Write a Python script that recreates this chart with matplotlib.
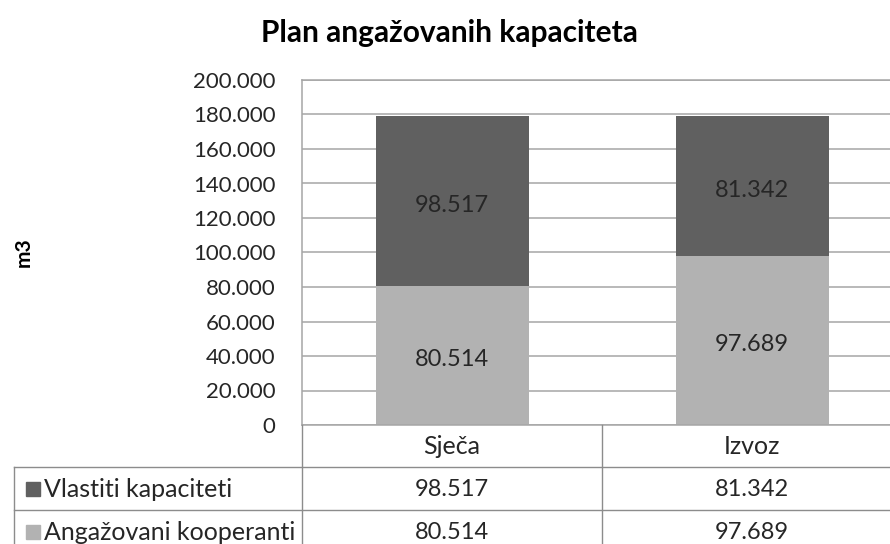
import matplotlib.pyplot as plt
from matplotlib.lines import Line2D
from matplotlib.patches import Rectangle

plt.rcParams["font.family"] = ["Lato", "DejaVu Sans"]

categories = ["Sječa", "Izvoz"]
series_names = ["Vlastiti kapaciteti", "Angažovani kooperanti"]
vlastiti = [98517, 81342]
angazovani = [80514, 97689]
y_ticks = [0, 20000, 40000, 60000, 80000, 100000, 120000, 140000, 160000, 180000, 200000]

DARK = "#606060"
LIGHT = "#b2b2b2"
GRID = "#a6a6a6"
TEXT = "#262626"

W, H = 890, 544


def fx(x):
    return x / W


def fy(y):
    return 1 - y / H


def fmt(value):
    return f"{value:,.0f}".replace(",", ".")


fig = plt.figure(figsize=(W / 100, H / 100), dpi=100)
plot_left, plot_right, plot_top, plot_bottom = 302, 902, 80, 425
ax = fig.add_axes([fx(plot_left), fy(plot_bottom),
                   (plot_right - plot_left) / W, (plot_bottom - plot_top) / H])

positions = list(range(len(categories)))
ax.bar(positions, angazovani, width=0.51, color=LIGHT, zorder=2)
ax.bar(positions, vlastiti, width=0.51, bottom=angazovani, color=DARK, zorder=2)

# data labels, nudged down a little so the digits sit on the segment centre
for pos, low, high in zip(positions, angazovani, vlastiti):
    for y, val in [(low / 2, low), (low + high / 2, high)]:
        ax.annotate(fmt(val), xy=(pos, y), xytext=(0, -3), textcoords="offset points",
                    ha="center", va="center", fontsize=17, color=TEXT, zorder=3)

ax.set_xlim(-0.5, len(categories) - 0.5)
ax.set_ylim(0, 200000)
ax.set_yticks(y_ticks)
ax.set_yticklabels([fmt(t) for t in y_ticks], fontsize=16, color=TEXT)
ax.set_xticks([])
ax.tick_params(axis="y", length=0, pad=19)
ax.grid(axis="y", color=GRID, linewidth=1.1, zorder=1)
for side in ax.spines:
    ax.spines[side].set_color(GRID)
    ax.spines[side].set_linewidth(1.1)

fig.text(fx(449), fy(33), "Plan angažovanih kapaciteta", ha="center", va="center",
         fontsize=21.5, fontweight="bold", color="#000000")
fig.text(fx(24), fy(252), "m3", ha="center", va="center", rotation=90,
         fontsize=15, fontweight="bold", color="#000000")

# data table under the chart
line_kw = dict(color="#8c8c8c", linewidth=1.0, transform=fig.transFigure)
header_mid = 447
row_edges = [467, 510, 553]
for y in row_edges[:2]:
    fig.add_artist(Line2D([fx(14), 1], [fy(y), fy(y)], **line_kw))
fig.add_artist(Line2D([fx(14), fx(14)], [fy(row_edges[0]), fy(row_edges[-1])], **line_kw))
col_edges = [plot_left + i * (plot_right - plot_left) / len(categories) for i in range(len(categories) + 1)]
for x in col_edges[:-1]:
    fig.add_artist(Line2D([fx(x), fx(x)], [fy(plot_bottom), fy(row_edges[-1])], **line_kw))

centers = [(a + b) / 2 for a, b in zip(col_edges[:-1], col_edges[1:])]
for c, name in zip(centers, categories):
    fig.text(fx(c), fy(header_mid), name, ha="center", va="center", fontsize=18, color=TEXT)

rows = [(series_names[0], vlastiti, DARK), (series_names[1], angazovani, LIGHT)]
for (name, values, color), top, bottom in zip(rows, row_edges[:-1], row_edges[1:]):
    mid = (top + bottom) / 2 + 1
    fig.add_artist(Rectangle((fx(26), fy(mid + 6)), 14 / W, 14 / H, color=color,
                             transform=fig.transFigure))
    fig.text(fx(44), fy(mid), name, ha="left", va="center", fontsize=18, color=TEXT)
    for c, v in zip(centers, values):
        fig.text(fx(c), fy(mid), fmt(v), ha="center", va="center", fontsize=17, color=TEXT)

fig.savefig("out.png", dpi=100)
